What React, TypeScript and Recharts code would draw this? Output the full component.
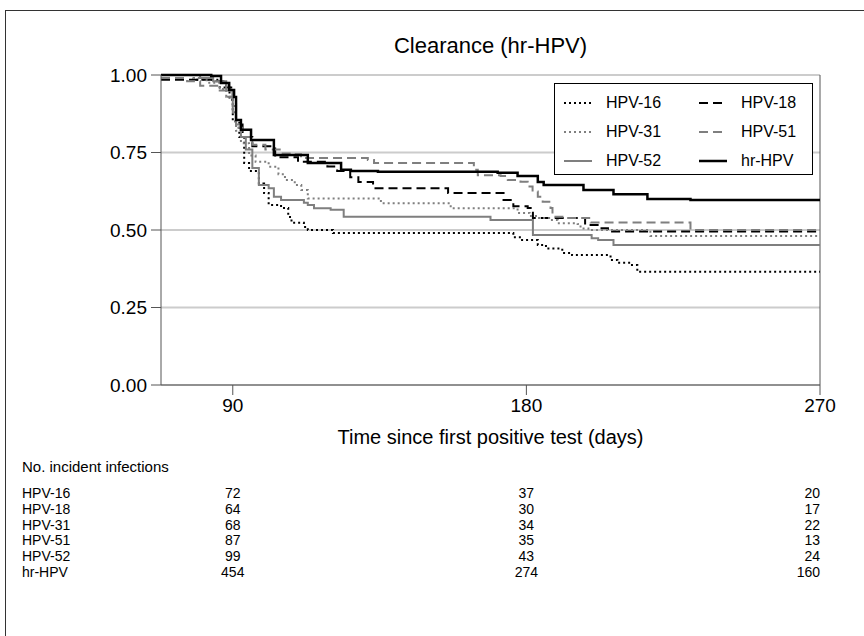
import React from "react";
import { LineChart, Line, XAxis, YAxis, CartesianGrid, Legend, ReferenceLine } from "recharts";

// Kaplan-Meier style clearance curves (days, proportion not cleared)
const days16 = [68, 78, 86, 89, 90, 92, 93.5, 95, 98, 99.6, 101, 104.8, 107, 108, 111.8, 113, 120.7, 176, 178, 183.5, 186, 191, 194, 205.8, 207.9, 211.9, 214, 270];
const surv16 = [1.0, 0.985, 0.96, 0.92, 0.85, 0.8, 0.716, 0.69, 0.65, 0.619, 0.581, 0.571, 0.542, 0.523, 0.51, 0.5, 0.49, 0.477, 0.468, 0.452, 0.44, 0.426, 0.419, 0.403, 0.394, 0.387, 0.365, 0.365];

const days18 = [68, 84, 88, 90, 91, 93, 96, 103, 110, 119, 122, 126, 128.5, 133, 156, 173, 176, 180.4, 182, 198, 202.7, 205, 270];
const surv18 = [0.985, 0.98, 0.96, 0.92, 0.84, 0.8, 0.77, 0.735, 0.72, 0.705, 0.69, 0.67, 0.655, 0.635, 0.619, 0.597, 0.577, 0.571, 0.539, 0.516, 0.506, 0.495, 0.495];

const days31 = [68, 78, 82, 86, 88, 90, 91, 92.5, 95, 97, 101, 104, 106, 109, 111, 113, 135.4, 156.8, 177.3, 181, 183.5, 187.4, 189.6, 195.7, 196.6, 199, 218, 270];
const surv31 = [1.0, 0.99, 0.975, 0.955, 0.93, 0.88, 0.82, 0.78, 0.74, 0.72, 0.704, 0.68, 0.661, 0.645, 0.629, 0.602, 0.586, 0.57, 0.555, 0.545, 0.539, 0.532, 0.522, 0.519, 0.505, 0.5, 0.481, 0.481];

const days51 = [68, 76, 80, 86, 88, 90, 91, 93, 96, 100, 104.8, 108.8, 110.9, 131.4, 133.3, 163.9, 165.1, 172.1, 174.3, 178.2, 180.4, 181.9, 183.5, 185, 187.4, 188, 191.4, 199.7, 230.3, 270];
const surv51 = [0.99, 0.98, 0.965, 0.95, 0.93, 0.88, 0.83, 0.8, 0.775, 0.76, 0.747, 0.744, 0.732, 0.726, 0.716, 0.694, 0.677, 0.674, 0.661, 0.656, 0.64, 0.624, 0.607, 0.591, 0.571, 0.543, 0.539, 0.524, 0.5, 0.5];

const days52 = [68, 80, 84, 88, 90, 91, 92.5, 94, 96, 98, 101, 102.6, 104.8, 111.8, 113, 114.9, 120, 124, 169, 182, 200, 202, 206.7, 270];
const surv52 = [1.0, 0.99, 0.98, 0.95, 0.9, 0.84, 0.8, 0.76, 0.7, 0.645, 0.635, 0.607, 0.597, 0.588, 0.581, 0.57, 0.565, 0.543, 0.532, 0.484, 0.473, 0.468, 0.452, 0.452];

const daysHr = [68, 80, 83.4, 86.4, 88.9, 90.4, 91, 92.5, 95.6, 102.6, 113, 123.2, 126.2, 134.5, 171.2, 177.3, 183.5, 185.3, 197.5, 206.7, 217.1, 230.3, 270];
const survHr = [1.0, 1.0, 0.997, 0.974, 0.952, 0.929, 0.855, 0.823, 0.79, 0.742, 0.716, 0.694, 0.69, 0.688, 0.685, 0.674, 0.655, 0.645, 0.629, 0.615, 0.6, 0.597, 0.597];

// number-at-risk table
const riskTimes = [90, 180, 270];
const riskLabels = ["HPV-16", "HPV-18", "HPV-31", "HPV-51", "HPV-52", "hr-HPV"];
const riskCounts = [
  [72, 37, 20],
  [64, 30, 17],
  [68, 34, 22],
  [87, 35, 13],
  [99, 43, 24],
  [454, 274, 160],
];

const xTicks = [90, 180, 270];
const yTicks = [0, 0.25, 0.5, 0.75, 1];
const X_MIN = 68;
const X_MAX = 270;

const FONT = "'Liberation Sans', Arial, Helvetica, sans-serif";
const BLACK = "#000000";
const GREY = "#7f7f7f";

const W = 864;
const H = 636;
const M = { top: 75, right: 44, bottom: 191, left: 101 };
const Y_AXIS_W = 60;
const X_AXIS_H = 60;
const plotLeft = M.left + Y_AXIS_W;
const plotWidth = W - plotLeft - M.right;

const toRows = (days: number[], surv: number[]) => days.map((t, i) => ({ t, s: surv[i] }));

const series = [
  { name: "HPV-16", data: toRows(days16, surv16), color: BLACK, dash: "2 3", width: 2 },
  { name: "HPV-18", data: toRows(days18, surv18), color: BLACK, dash: "9 5", width: 2 },
  { name: "HPV-31", data: toRows(days31, surv31), color: GREY, dash: "2 3", width: 2 },
  { name: "HPV-51", data: toRows(days51, surv51), color: GREY, dash: "9 5", width: 2 },
  { name: "HPV-52", data: toRows(days52, surv52), color: GREY, dash: undefined, width: 2 },
  { name: "hr-HPV", data: toRows(daysHr, survHr), color: BLACK, dash: undefined, width: 2.5 },
];

const xPix = (t: number) => plotLeft + ((t - X_MIN) / (X_MAX - X_MIN)) * plotWidth;

function BoxLegend() {
  return (
    <div
      style={{
        border: "1px solid #000",
        background: "#fff",
        boxSizing: "border-box",
        width: 259,
        height: 92,
        display: "grid",
        gridTemplateColumns: "135px 1fr",
        gridTemplateRows: "repeat(3, 29px)",
        padding: "4px 0 0 8px",
        fontFamily: FONT,
        fontSize: 16,
      }}
    >
      {series.map((s) => (
        <div key={s.name} style={{ display: "flex", alignItems: "center" }}>
          <svg width={30} height={6} style={{ marginRight: 13 }}>
            <line x1={1} y1={3} x2={29} y2={3} stroke={s.color} strokeWidth={s.width} strokeDasharray={s.dash} />
          </svg>
          <span>{s.name}</span>
        </div>
      ))}
    </div>
  );
}

export default function App() {
  return (
    <div style={{ position: "absolute", left: 0, top: 0, width: W, height: H, background: "#fff", fontFamily: FONT, overflow: "hidden" }}>
      <div style={{ position: "absolute", left: 5, top: 10, width: W, height: H, borderLeft: "1px solid #333", borderTop: "1px solid #333" }} />
      <div style={{ position: "absolute", left: plotLeft, width: plotWidth, top: 33, textAlign: "center", fontSize: 22 }}>
        Clearance (hr-HPV)
      </div>
      <LineChart width={W} height={H} margin={M} style={{ position: "absolute", left: 0, top: 0 }}>
        <CartesianGrid vertical={false} stroke="#cccccc" strokeWidth={2} />
        <XAxis
          dataKey="t"
          type="number"
          domain={[X_MIN, X_MAX]}
          ticks={xTicks}
          allowDataOverflow
          height={X_AXIS_H}
          tickSize={10}
          tickMargin={4}
          stroke="#555"
          tick={{ fill: "#000", fontSize: 19, fontFamily: FONT }}
          label={{ value: "Time since first positive test (days)", position: "insideBottom", offset: 1, fill: "#000", fontSize: 20, fontFamily: FONT }}
        />
        <YAxis
          type="number"
          domain={[0, 1]}
          ticks={yTicks}
          width={Y_AXIS_W}
          tickSize={10}
          tickMargin={4}
          stroke="#555"
          tickFormatter={(v: number) => v.toFixed(2)}
          tick={{ fill: "#000", fontSize: 19, fontFamily: FONT }}
        />
        <ReferenceLine x={X_MAX} stroke="#555" />
        {series.map((s) => (
          <Line
            key={s.name}
            data={s.data}
            dataKey="s"
            name={s.name}
            type="stepAfter"
            stroke={s.color}
            strokeWidth={s.width}
            strokeDasharray={s.dash}
            dot={false}
            activeDot={false}
            isAnimationActive={false}
          />
        ))}
        <Legend
          layout="horizontal"
          verticalAlign="middle"
          align="center"
          content={() => <BoxLegend />}
          wrapperStyle={{ left: 554, top: 83, width: 259, height: 92 }}
        />
      </LineChart>
      <div style={{ position: "absolute", left: 22, top: 458, fontSize: 15 }}>No. incident infections</div>
      {riskLabels.map((lab, r) => (
        <React.Fragment key={lab}>
          <div style={{ position: "absolute", left: 22, top: 485 + r * 15.8, fontSize: 14 }}>{lab}</div>
          {riskTimes.map((t, c) => (
            <div
              key={t}
              style={{
                position: "absolute",
                top: 485 + r * 15.8,
                fontSize: 14,
                ...(t === X_MAX
                  ? { right: W - xPix(t), textAlign: "right" as const }
                  : { left: xPix(t) - 40, width: 80, textAlign: "center" as const }),
              }}
            >
              {riskCounts[r][c]}
            </div>
          ))}
        </React.Fragment>
      ))}
    </div>
  );
}
